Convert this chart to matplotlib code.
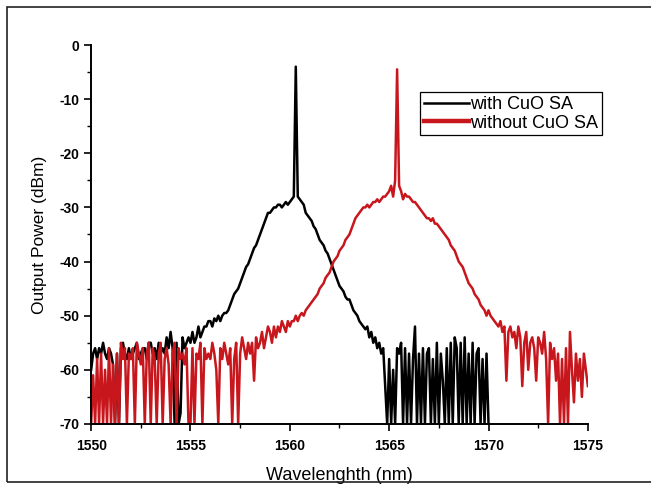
import numpy as np
import matplotlib
matplotlib.use("Agg")
import matplotlib.pyplot as plt
from matplotlib.patches import Rectangle
from matplotlib.lines import Line2D

plt.rcParams['font.family'] = ['Liberation Sans', 'DejaVu Sans']
plt.rcParams['axes.unicode_minus'] = False

# 출력 스펙트럼 (0.1 nm 간격으로 읽은 값, dBm)
wl_with = np.round(np.arange(1550.0, 1570.0 + 0.05, 0.1), 1)
pw_with = [
    -60, -57, -56, -58, -56, -57, -55, -57, -58, -56,
    -57, -59, -70, -57, -70, -56, -55, -57, -58, -56,
    -58, -57, -56, -55, -58, -57, -56, -56, -58, -55,
    -55, -57, -56, -58, -55, -57, -56, -57, -54, -56,
    -53, -56, -70, -55, -70, -68, -54, -56, -55, -54,
    -55, -53, -55, -54, -52, -54, -53, -52, -52, -51,
    -51, -52, -50.5, -51, -50, -51, -50, -49.5, -49.5, -49,
    -48, -47, -46, -45.5, -45, -44, -43, -42, -41, -40.5,
    -39.5, -38.5, -37.5, -37, -36, -35, -34, -33, -32, -31,
    -31, -30.5, -30, -30, -29.5, -29.5, -30, -29.5, -29, -29.5,
    -29, -28.5, -28, -4, -28, -28.5, -29, -29.5, -31, -31.5,
    -32, -32.5, -33.5, -34, -35, -36, -36.5, -37, -38, -38.5,
    -39.5, -40.5, -41.5, -42.5, -43.5, -44.5, -45, -45.5, -46.5, -47,
    -47, -48, -49, -49.5, -50, -51, -51.5, -52, -52.5, -52,
    -54, -53, -55, -54, -56, -55, -57, -56, -63, -70,
    -58, -70, -60, -70, -56, -57, -55, -70, -56, -70,
    -57, -70, -58, -52, -70, -57, -70, -56, -70, -57,
    -56, -70, -58, -70, -55, -70, -57, -62, -70, -56,
    -70, -55, -70, -54, -56, -70, -55, -70, -54, -70,
    -57, -70, -55, -70, -57, -56, -70, -58, -70, -57,
    -70,
]

wl_without = np.round(np.arange(1550.0, 1575.0 + 0.05, 0.1), 1)
pw_without = [
    -70, -61, -70, -58, -70, -57, -70, -60, -70, -56,
    -70, -59, -70, -57, -70, -55, -58, -56, -70, -57,
    -58, -56, -70, -55, -57, -59, -56, -70, -57, -55,
    -70, -56, -58, -70, -57, -55, -70, -58, -56, -59,
    -70, -57, -55, -70, -56, -58, -57, -59, -56, -70,
    -70, -56, -70, -57, -58, -55, -70, -56, -58, -57,
    -58, -55, -57, -60, -70, -56, -58, -55, -57, -59,
    -56, -70, -58, -55, -70, -57, -54, -56, -58, -55,
    -57, -55, -62, -54, -56, -55, -53, -56, -54, -52,
    -53, -55, -52, -54, -52, -53, -51, -52, -53, -51,
    -52, -51, -51, -50, -51, -50, -49.5, -50, -49, -48.5,
    -48, -47.5, -47, -46.5, -46, -45, -44.5, -44, -43, -42.5,
    -42, -41, -40, -39.5, -39, -38, -37.5, -37, -36, -35.5,
    -35, -34, -33, -32, -31.5, -31, -30.5, -30, -30, -29.5,
    -30, -29.5, -29, -29, -28.5, -29, -28.5, -28, -28, -27.5,
    -27, -26, -28, -25, -4.5, -26, -27, -28.5, -27.5, -28,
    -28, -28.5, -29, -29, -29.5, -30, -30.5, -31, -31.5, -32,
    -32, -32.5, -32, -33, -33, -33.5, -34, -34.5, -35, -35.5,
    -36, -37, -37.5, -38, -39, -40, -40.5, -41, -42, -43,
    -44, -44.5, -45, -46, -46.5, -47, -48, -48.5, -49, -50,
    -49, -50, -50.5, -51, -51.5, -52, -51, -53, -52, -62,
    -53, -52, -54, -53, -56, -52, -54, -63, -55, -53,
    -60, -55, -54, -56, -62, -54, -55, -57, -53, -58,
    -70, -55, -58, -56, -62, -57, -70, -58, -70, -56,
    -70, -53, -60, -66, -57, -62, -58, -65, -57, -60,
    -63,
]

labels = ['with CuO SA', 'without CuO SA']
x_ticks = [1550, 1555, 1560, 1565, 1570, 1575]
y_ticks = [0, -10, -20, -30, -40, -50, -60, -70]

black = '#000000'
red = '#c8161d'

fig = plt.figure(figsize=(6.51, 4.84), dpi=100)
ax = fig.add_axes([0.140, 0.124, 0.763, 0.783])

ax.plot(wl_with, pw_with, color=black, lw=1.8)
ax.plot(wl_without, pw_without, color=red, lw=1.8)

ax.set_xlim(1550, 1575)
ax.set_ylim(-70, 0)
ax.set_xticks(x_ticks)
ax.set_yticks(y_ticks)
ax.set_xticks(np.arange(1552.5, 1575, 5), minor=True)
ax.set_yticks(np.arange(-65, 0, 10), minor=True)

for side in ['top', 'right']:
    ax.spines[side].set_visible(False)
for side in ['left', 'bottom']:
    ax.spines[side].set_linewidth(1.4)

ax.tick_params(which='major', direction='out', length=5, width=1.2, labelsize=10)
ax.tick_params(which='minor', direction='out', length=3, width=1.0)
for lab in ax.get_xticklabels() + ax.get_yticklabels():
    lab.set_fontweight('bold')
ax.tick_params(axis='x', pad=6)

ax.set_xlabel('Wavelenghth (nm)', fontsize=13, labelpad=10)
ax.set_ylabel('Output Power (dBm)', fontsize=12.5, labelpad=9)

handles = [Line2D([], [], color=black, lw=1.8), Line2D([], [], color=red, lw=3.2)]
leg = ax.legend(handles, labels, loc='upper left', bbox_to_anchor=(0.662, 0.875),
                fontsize=13, frameon=True, fancybox=False, framealpha=1,
                edgecolor=black, handlelength=2.5, handletextpad=0.1,
                borderpad=0.2, labelspacing=0.1, borderaxespad=0)
leg.get_frame().set_linewidth(0.9)

# 바깥 테두리
fig.patches.append(Rectangle((0.011, 0.004), 1.0, 0.982, transform=fig.transFigure,
                             fill=False, edgecolor='#222222', lw=1.2, clip_on=False))

fig.savefig('out.png', dpi=100)
plt.close(fig)
